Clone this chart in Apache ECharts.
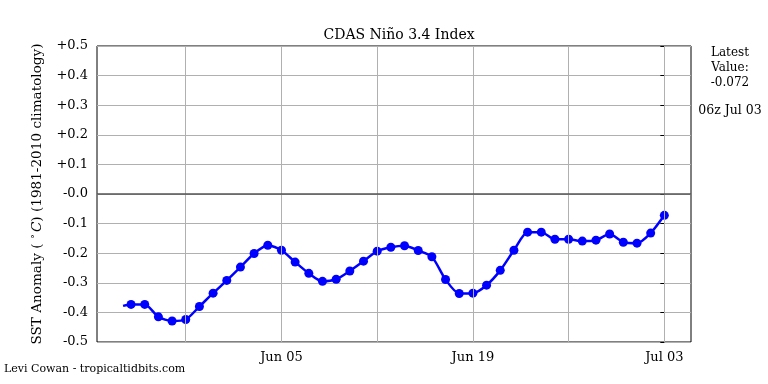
<!DOCTYPE html>
<html><head><meta charset="utf-8">
<script src="https://cdn.jsdelivr.net/npm/echarts@6/dist/echarts.min.js"></script>
<style>html,body{margin:0;padding:0;background:#fff}#c{width:768px;height:384px}</style>
</head><body><div id="c"></div>
<script>
// Dates of the daily points (year 2025 assumed), and anomaly values (°C)
const dates = ['05-24T10','05-25','05-26','05-27','05-28','05-29','05-30','05-31','06-01','06-02','06-03',
  '06-04','06-05','06-06','06-07','06-08','06-09','06-10','06-11','06-12','06-13',
  '06-14','06-15','06-16','06-17','06-18','06-19','06-20','06-21','06-22','06-23',
  '06-24','06-25','06-26','06-27','06-28','06-29','06-30','07-01','07-02','07-03'];
const values = [-0.378,-0.373,-0.373,-0.415,-0.429,-0.424,-0.380,-0.335,-0.292,-0.247,-0.201,
  -0.173,-0.190,-0.230,-0.268,-0.295,-0.288,-0.260,-0.227,-0.193,-0.180,
  -0.175,-0.191,-0.212,-0.289,-0.336,-0.335,-0.308,-0.258,-0.190,-0.129,
  -0.129,-0.153,-0.153,-0.159,-0.156,-0.135,-0.163,-0.166,-0.132,-0.072];
const showMarker = values.map((v,i)=> i>0);
const xMajorLabels = ['Jun 05','Jun 19','Jul 03'];
const xMajorDates = ['06-05','06-19','07-03'];
const xTickDates = ['05-29','06-05','06-12','06-19','06-26','07-03'];
const yTicks = [0.5,0.4,0.3,0.2,0.1,0.0,-0.1,-0.2,-0.3,-0.4,-0.5];
const latestText = 'Latest\nValue:\n-0.072';
const latestTime = '06z Jul 03';

const ref = Date.UTC(2025,6,3);
function off(s){
  const p = s.split('T'); const md = p[0].split('-');
  const h = p[1] ? +p[1] : 0;
  return (Date.UTC(2025, +md[0]-1, +md[1], h) - ref)/86400000;
}
const xs = dates.map(off);
const seriesData = values.map((v,i)=>({value:[xs[i],v], symbolSize: showMarker[i]?9:0}));
const majorX = xMajorDates.map(off);
const tickX = xTickDates.map(off);

const chart = echarts.init(document.getElementById('c'), null, {renderer:'canvas'});
const font = 'DejaVu Serif';
chart.setOption({
  animation:false,
  backgroundColor:'#fff',
  title:{text:'CDAS Niño 3.4 Index', left:394, top:23, textAlign:'center',
    textStyle:{fontFamily:font, fontSize:14, fontWeight:'normal', color:'#000'}},
  grid:{left:97, right:77, top:46, bottom:42, show:true, borderColor:'#000', borderWidth:1, backgroundColor:'transparent'},
  xAxis:{type:'value', min:-41.49, max:1.95,
    axisLine:{show:false},
    splitLine:{show:false},
    axisTick:{show:true, customValues:tickX, length:4, inside:false, lineStyle:{color:'#000'}},
    axisLabel:{customValues:majorX, fontFamily:font, fontSize:13, color:'#000', margin:9,
      formatter:(v)=>{const i = majorX.findIndex(m=>Math.abs(m-v)<1e-6); return i>=0?xMajorLabels[i]:'';}}
  },
  yAxis:{type:'value', min:-0.5, max:0.5, interval:0.1,
    name:'{n|SST Anomaly ( }{d|°}{i|C}{n|) (1981-2010 climatology)}',
    nameLocation:'middle', nameGap:53, nameRotate:90,
    nameTextStyle:{fontFamily:font, fontSize:13.6, color:'#000',
      rich:{n:{fontFamily:font, fontSize:13.6, color:'#000'},
            d:{fontFamily:font, fontSize:10, color:'#000', padding:[0,2,4,0]},
            i:{fontFamily:font, fontSize:13.6, color:'#000', fontStyle:'italic'}}},
    axisLine:{show:false},
    axisTick:{show:true, length:4, lineStyle:{color:'#000'}},
    splitLine:{show:true, lineStyle:{color:'#b0b0b0', width:1}},
    axisLabel:{fontFamily:font, fontSize:13, color:'#000', margin:9,
      formatter:(v)=>{const r=Math.round(v*10)/10; return (r>0?'+':'-')+Math.abs(r).toFixed(1);}}
  },
  graphic:[
    {type:'text', left:4, top:364, style:{text:'Levi Cowan - tropicaltidbits.com', fontFamily:font, fontSize:11, fill:'#000'}},
    {type:'text', x:730, y:45, style:{text:latestText, fontFamily:font, fontSize:12, fill:'#000', align:'center', lineHeight:15}},
    {type:'text', x:730, y:104, style:{text:latestTime, fontFamily:font, fontSize:12.5, fill:'#000', align:'center'}}
  ],
  series:[
    {type:'line', data:[], z:1, silent:true,
      markLine:{silent:true, symbol:'none', label:{show:false},
        data:tickX.map(x=>({xAxis:x, lineStyle:{color:'#b0b0b0', width:1, type:'solid'}}))
          .concat([{yAxis:0, lineStyle:{color:'#555', width:1.5, type:'solid'}}])}
    },
    {type:'line', data:seriesData, z:3, smooth:0.25, symbol:'circle',
      lineStyle:{color:'#0000ff', width:2.5}, itemStyle:{color:'#0000ff'}}
  ]
});
</script></body></html>
